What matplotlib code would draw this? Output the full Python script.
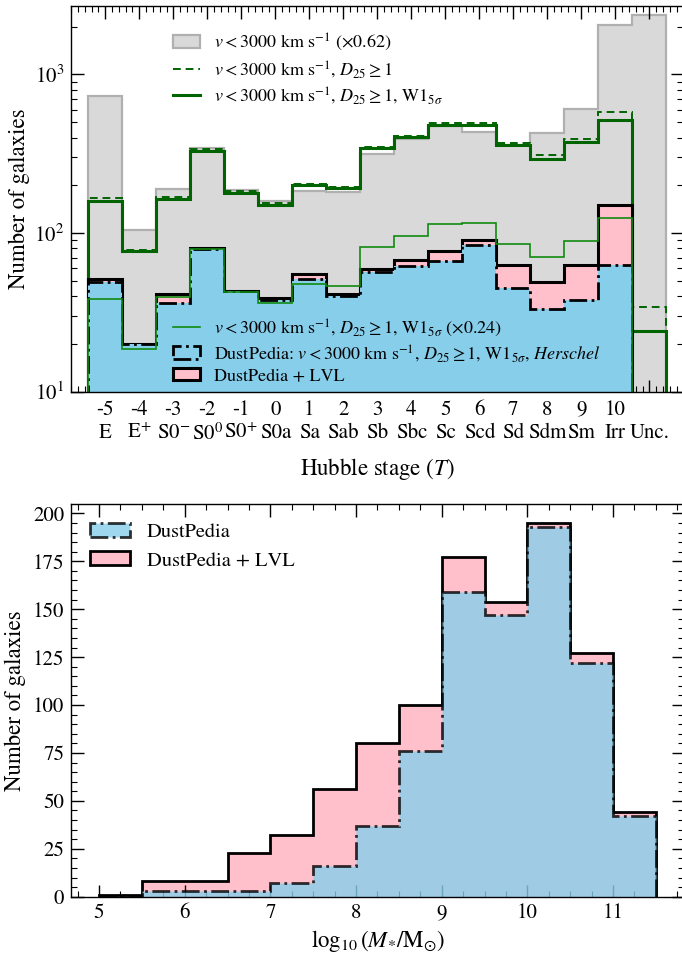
import numpy as np
import matplotlib
matplotlib.use("Agg")
import matplotlib.pyplot as plt
from matplotlib.ticker import MultipleLocator, FixedLocator, LogLocator, NullFormatter
from matplotlib.lines import Line2D
from matplotlib.patches import Patch

plt.rcParams['font.family'] = ['STIXGeneral', 'DejaVu Serif']
plt.rcParams['mathtext.fontset'] = 'stix'

# ---------------- Top panel data (Hubble stage) ----------------
t_stage = [-5, -4, -3, -2, -1, 0, 1, 2, 3, 4, 5, 6, 7, 8, 9, 10, 11]
t_names = ['E', 'E$^{+}$', 'S0$^{-}$', 'S0$^{0}$', 'S0$^{+}$', 'S0a', 'Sa', 'Sab',
           'Sb', 'Sbc', 'Sc', 'Scd', 'Sd', 'Sdm', 'Sm', 'Irr', 'Unc.']
t_numbers = ['-5', '-4', '-3', '-2', '-1', '0', '1', '2', '3', '4', '5', '6', '7',
             '8', '9', '10', '']

# all v<3000 km/s (already multiplied by 0.62 as drawn)
all_v3000_scaled = [729, 105, 190, 343, 187, 159, 185, 181, 315, 389, 474, 431,
                    360, 425, 602, 2045, 2364]
# v<3000, D25>=1
d25 = [166, 78, 169, 337, 183, 154, 204, 196, 347, 408, 491, 497, 371, 311, 393,
       579, 34]
# v<3000, D25>=1, W1 5 sigma
w1 = [160, 77, 164, 330, 178, 150, 200, 193, 342, 402, 477, 483, 357, 293, 373,
      515, 24]
w1_scale = 0.24

# DustPedia samples (T = -5 .. 10)
dp_stage = [-5, -4, -3, -2, -1, 0, 1, 2, 3, 4, 5, 6, 7, 8, 9, 10]
dp_counts = [49, 20, 36, 79, 43, 38, 51, 40, 57, 62, 67, 84, 45, 33, 38, 63]
lvl_counts = [51, 20, 41, 80, 43, 39, 55, 41, 59, 68, 77, 90, 63, 49, 63, 150]

# ---------------- Bottom panel data (stellar mass) ----------------
mass_edges = [5.0, 5.5, 6.0, 6.5, 7.0, 7.5, 8.0, 8.5, 9.0, 9.5, 10.0, 10.5, 11.0, 11.5]
mass_dp = [0, 3, 3, 3, 7, 16, 37, 76, 159, 147, 193, 122, 42]
mass_lvl = [1, 8, 8, 23, 32, 56, 80, 100, 177, 154, 195, 127, 44]

# ---------------- Figure ----------------
W, H = 682, 956
fig = plt.figure(figsize=(W / 100, H / 100), dpi=100)
ax1 = fig.add_axes([71.3 / W, 1 - 391.7 / H, 612 / W, 385.7 / H])
ax2 = fig.add_axes([71.2 / W, 1 - 896.7 / H, 612.5 / W, 392.4 / H])

fs = 15
fl = 16.5
green_dark = '#006400'
green_thin = '#108a10'

edges_all = np.append(np.array(t_stage) - 0.5, t_stage[-1] + 0.5)
edges_dp = np.append(np.array(dp_stage) - 0.5, dp_stage[-1] + 0.5)
base = 1.0

ax1.set_yscale('log')
ax1.stairs(all_v3000_scaled, edges_all, baseline=base, fill=True,
           facecolor='#d9d9d9', edgecolor='none', zorder=1)
ax1.stairs(all_v3000_scaled, edges_all, baseline=base, fill=False,
           edgecolor='#b0b0b0', linewidth=1.6, zorder=1.1)
ax1.stairs(d25, edges_all, baseline=base, edgecolor=green_dark, linewidth=1.4,
           linestyle=(0, (4, 2.5)), zorder=2)
ax1.stairs(w1, edges_all, baseline=base, edgecolor=green_dark, linewidth=2.2,
           zorder=2.1)
ax1.stairs(lvl_counts, edges_dp, baseline=base, fill=True, facecolor='pink',
           edgecolor='none', zorder=3)
ax1.stairs(lvl_counts, edges_dp, baseline=base, edgecolor='black', linewidth=2.2,
           zorder=3.1)
ax1.stairs(dp_counts, edges_dp, baseline=base, fill=True, facecolor='skyblue',
           edgecolor='none', zorder=4)
ax1.stairs(dp_counts, edges_dp, baseline=base, edgecolor='black', linewidth=2.0,
           linestyle='-.', zorder=4.1)
ax1.stairs(np.array(w1) * w1_scale, edges_all, baseline=base, edgecolor=green_thin,
           linewidth=1.2, zorder=5)

ax1.set_xlim(-6, 12)
ax1.set_ylim(10, 2700)
ax1.xaxis.set_major_locator(FixedLocator(t_stage))
ax1.set_xticklabels([f"{n}\n{s}" for n, s in zip(t_numbers, t_names)])
ax1.xaxis.set_minor_locator(MultipleLocator(0.2))
ax1.yaxis.set_major_locator(LogLocator(base=10, numticks=10))
ax1.yaxis.set_minor_locator(LogLocator(base=10, subs=np.arange(2, 10), numticks=20))
ax1.yaxis.set_minor_formatter(NullFormatter())
ax1.set_xlabel('Hubble stage ($T$)', fontsize=fl, labelpad=8)
ax1.set_ylabel('Number of galaxies', fontsize=fl, labelpad=3)

for ax in (ax1, ax2):
    ax.tick_params(which='both', direction='in', top=True, right=True,
                   labelsize=fs)
    ax.tick_params(which='major', length=9, width=1.0, pad=5)
    ax.tick_params(which='minor', length=4.5, width=0.8)
    for sp in ax.spines.values():
        sp.set_linewidth(1.0)
        sp.set_zorder(10)
    ax.set_axisbelow(False)
ax1.tick_params(axis='x', which='major', pad=6)

# legends top
lab1 = r'$v < 3000$ km s$^{-1}$ ($\times 0.62$)'
lab2 = r'$v < 3000$ km s$^{-1}$, $D_{25} \geq 1$'
lab3 = r'$v < 3000$ km s$^{-1}$, $D_{25} \geq 1$, W1$_{5\sigma}$'
lab4 = r'$v < 3000$ km s$^{-1}$, $D_{25} \geq 1$, W1$_{5\sigma}$ ($\times 0.24$)'
lab5 = r'DustPedia: $v < 3000$ km s$^{-1}$, $D_{25} \geq 1$, W1$_{5\sigma}$, $Herschel$'
lab6 = 'DustPedia + LVL'

lfs = 13
h1 = [Patch(facecolor='#d9d9d9', edgecolor='#b0b0b0', linewidth=1.6),
      Line2D([], [], color=green_dark, lw=1.4, linestyle=(0, (4, 2.5))),
      Line2D([], [], color=green_dark, lw=2.2)]
leg1 = ax1.legend(h1, [lab1, lab2, lab3], loc='upper left',
                  bbox_to_anchor=(0.14, 0.975), frameon=False, fontsize=lfs,
                  handlelength=1.5, handletextpad=0.75, labelspacing=0.3)
ax1.add_artist(leg1)
h2 = [Line2D([], [], color=green_thin, lw=1.2),
      Patch(facecolor='skyblue', edgecolor='black', linewidth=2.0, linestyle='-.'),
      Patch(facecolor='pink', edgecolor='black', linewidth=2.2)]
leg2 = ax1.legend(h2, [lab4, lab5, lab6], loc='upper left',
                  bbox_to_anchor=(0.14, 0.235), frameon=False, fontsize=lfs,
                  handlelength=1.5, handletextpad=0.75, labelspacing=0.22)
leg2.set_zorder(20)
leg1.set_zorder(20)

# ---------------- bottom panel ----------------
ax2.stairs(mass_lvl, mass_edges, baseline=0, fill=True, facecolor='pink',
           edgecolor='black', linewidth=2.0, zorder=2)
ax2.stairs(mass_dp, mass_edges, baseline=0, fill=True, facecolor='skyblue',
           edgecolor='black', linewidth=2.0, linestyle='-.', alpha=0.8, zorder=3)
ax2.set_xlim(4.675, 11.825)
ax2.set_ylim(0, 204.75)
ax2.xaxis.set_major_locator(MultipleLocator(1))
ax2.xaxis.set_minor_locator(MultipleLocator(0.25))
ax2.yaxis.set_major_locator(MultipleLocator(25))
ax2.yaxis.set_minor_locator(MultipleLocator(5))
ax2.set_xlabel(r'$\log_{10}(M_{*}/\mathrm{M}_{\odot})$', fontsize=fl,
               labelpad=3)
ax2.set_ylabel('Number of galaxies', fontsize=fl, labelpad=5)
hb = [Patch(facecolor='skyblue', edgecolor='black', linewidth=2.0, linestyle='-.',
            alpha=0.8),
      Patch(facecolor='pink', edgecolor='black', linewidth=2.0)]
ax2.legend(hb, ['DustPedia', 'DustPedia + LVL'], loc='upper left', frameon=False,
           fontsize=14.7, handlelength=2.0, handletextpad=0.8)

fig.savefig('out.png', dpi=100)
